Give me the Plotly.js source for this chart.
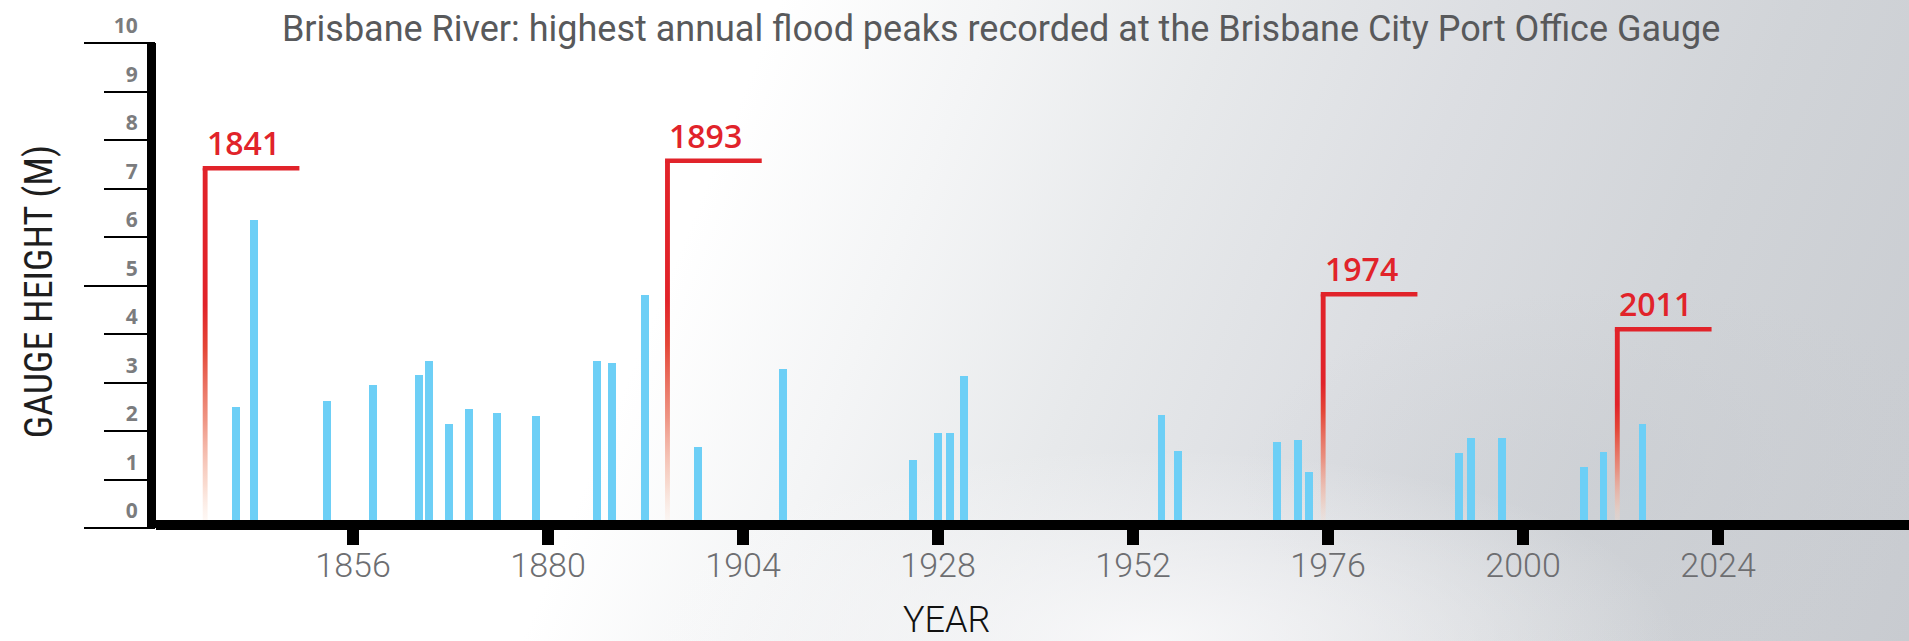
<!DOCTYPE html>
<html>
<head>
<meta charset="utf-8">
<script src="https://cdn.plot.ly/plotly-3.0.1.min.js"></script>
<style>
html, body { margin: 0; padding: 0; width: 1909px; height: 641px; overflow: hidden; }
body {
  background:
    radial-gradient(ellipse 28% 30% at 60% 100%, rgba(250,250,251,0.9), rgba(250,250,251,0) 100%),
    radial-gradient(ellipse 20% 30% at 85% 75%, rgba(200,203,208,0.45), rgba(200,203,208,0) 100%),
    linear-gradient(112deg, #ffffff 0%, #ffffff 36%, #f4f5f6 46%, #e7e9eb 57%, #dcdee2 69%, #d1d4d8 83%, #c8cbd0 100%);
}
#chart { width: 1909px; height: 641px; }
</style>
</head>
<body>
<div id="chart"></div>
<script>
// ---- data ----
const chartTitle = 'Brisbane River: highest annual flood peaks recorded at the Brisbane City Port Office Gauge';
const xAxisTitle = 'YEAR';
const yAxisTitle = 'GAUGE HEIGHT (M)';

// blue bars: horizontal position on the year axis, and gauge height (m)
const barYears = [1841.6, 1843.8, 1852.8, 1858.4, 1864.1, 1865.4, 1867.8, 1870.3, 1873.7, 1878.5,
                  1886.0, 1887.9, 1891.9, 1898.5, 1908.9, 1924.9, 1928.0, 1929.5, 1931.2, 1955.5,
                  1957.5, 1969.7, 1972.3, 1973.6, 1992.1, 1993.6, 1997.4, 2007.5, 2009.9, 2014.7];
const barHeights = [2.49, 6.35, 2.62, 2.95, 3.15, 3.44, 2.14, 2.45, 2.37, 2.31,
                    3.44, 3.40, 4.80, 1.67, 3.28, 1.40, 1.96, 1.96, 3.13, 2.33,
                    1.59, 1.77, 1.81, 1.15, 1.55, 1.86, 1.86, 1.26, 1.57, 2.14];

// red flag markers for the major floods
const markerLabels = ['1841', '1893', '1974', '2011'];
const markerPositions = [1837.8, 1894.7, 1975.4, 2011.6];
const markerHeights = [7.42, 7.57, 4.82, 4.10];

// axis ticks
const xTickValues = [1856, 1880, 1904, 1928, 1952, 1976, 2000, 2024];
const xTickLabels = ['1856', '1880', '1904', '1928', '1952', '1976', '2000', '2024'];
const yTickValues = [0, 1, 2, 3, 4, 5, 6, 7, 8, 9, 10];
const yTickLabels = ['0', '1', '2', '3', '4', '5', '6', '7', '8', '9', '10'];
const yLongTickValues = [0, 5, 10];
const xRange = [1831.75, 2047.5];
const yRange = [0, 10];

// ---- styles ----
const RED = '#e1232a';
const BLUE = '#6dcff6';
const stemHalfWidth = 0.3;   // in axis units (~2.5 px)
const flagLength = 11.6;     // in axis units (~94 px)

const traces = [];
traces.push({
  type: 'bar', x: barYears, y: barHeights, width: 0.98,
  marker: { color: BLUE, line: { width: 0 } },
  showlegend: false, hovertemplate: '%{y} m<extra></extra>'
});

markerPositions.forEach(function (p, i) {
  const h = markerHeights[i];
  traces.push({
    type: 'scatter', mode: 'none',
    x: [p - stemHalfWidth, p + stemHalfWidth, p + stemHalfWidth, p - stemHalfWidth, p - stemHalfWidth],
    y: [0, 0, h, h, 0],
    fill: 'toself',
    fillcolor: RED,
    fillgradient: {
      type: 'vertical',
      colorscale: [
        [0, 'rgba(252,230,215,0.15)'],
        [0.12, 'rgba(245,190,170,0.55)'],
        [0.3, 'rgba(236,130,110,0.85)'],
        [0.5, 'rgba(228,70,55,1)'],
        [0.62, RED],
        [1, RED]
      ]
    },
    showlegend: false, hoverinfo: 'skip'
  });
  traces.push({
    type: 'scatter', mode: 'lines',
    x: [p - stemHalfWidth, p + flagLength],
    y: [h, h],
    line: { color: RED, width: 4.5 },
    showlegend: false, hoverinfo: 'skip'
  });
});

// dummy trace so that the overlay axis carrying the long ticks is drawn
traces.push({ type: 'scatter', x: [null], y: [null], yaxis: 'y2', showlegend: false, hoverinfo: 'skip' });

const annotations = markerLabels.map(function (lab, i) {
  return {
    x: markerPositions[i] - stemHalfWidth, y: markerHeights[i],
    xref: 'x', yref: 'y', xanchor: 'left', yanchor: 'bottom',
    xshift: 2, yshift: 2,
    text: lab, showarrow: false,
    font: { family: 'Open Sans, sans-serif', size: 32, weight: 600, color: RED }
  };
});
annotations.push({
  text: yAxisTitle, textangle: -90, showarrow: false,
  xref: 'paper', yref: 'paper', x: -0.0667, y: 0.486,
  xanchor: 'center', yanchor: 'middle',
  font: { family: '"Liberation Sans Narrow", "Roboto Condensed", Roboto, sans-serif', size: 38, color: '#1e1e1e' }
});
annotations.push({
  text: xAxisTitle, showarrow: false,
  xref: 'paper', yref: 'paper', x: 0.4507, y: -0.19,
  xanchor: 'center', yanchor: 'middle',
  font: { family: 'Roboto, sans-serif', size: 36, weight: 300, color: '#111111' }
});

const layout = {
  width: 1909, height: 641, autosize: false,
  margin: { l: 156, r: 0, t: 43, b: 113, pad: 0 },
  paper_bgcolor: 'rgba(0,0,0,0)',
  plot_bgcolor: 'rgba(0,0,0,0)',
  title: {
    text: chartTitle,
    x: 0.5244, xref: 'container', xanchor: 'center',
    y: 1 - 28 / 641, yref: 'container', yanchor: 'middle',
    font: { family: 'Roboto, sans-serif', size: 36, weight: 400, color: '#58595b' }
  },
  bargap: 0,
  xaxis: {
    range: xRange, type: 'linear',
    anchor: 'free', position: 3 / 485,
    showgrid: false, zeroline: false,
    showline: true, linewidth: 10, linecolor: '#000000',
    ticks: 'outside', ticklen: 15, tickwidth: 12, tickcolor: '#000000',
    tickmode: 'array', tickvals: xTickValues, ticktext: xTickLabels,
    ticklabelstandoff: -9,
    tickfont: { family: 'Roboto, sans-serif', size: 34, weight: 300, color: '#6d6e71' },
    fixedrange: true
  },
  yaxis: {
    range: yRange, type: 'linear',
    showgrid: false, zeroline: false,
    showline: true, linewidth: 9, linecolor: '#000000',
    ticks: 'outside', ticklen: 43, tickwidth: 2, tickcolor: '#000000',
    tickmode: 'array', tickvals: yTickValues, ticktext: yTickLabels,
    ticklabelshift: -17, ticklabelstandoff: -38,
    tickfont: { family: 'Open Sans, sans-serif', size: 21, weight: 700, color: '#7b7c7e' },
    fixedrange: true
  },
  yaxis2: {
    range: yRange, overlaying: 'y', side: 'left', anchor: 'x',
    showgrid: false, zeroline: false, showline: false,
    ticks: 'outside', ticklen: 71, tickwidth: 2, tickcolor: '#000000',
    tickmode: 'array', tickvals: yLongTickValues, showticklabels: false,
    fixedrange: true
  },
  annotations: annotations,
  showlegend: false
};

Plotly.newPlot('chart', traces, layout, { displayModeBar: false, staticPlot: true });
</script>
</body>
</html>
